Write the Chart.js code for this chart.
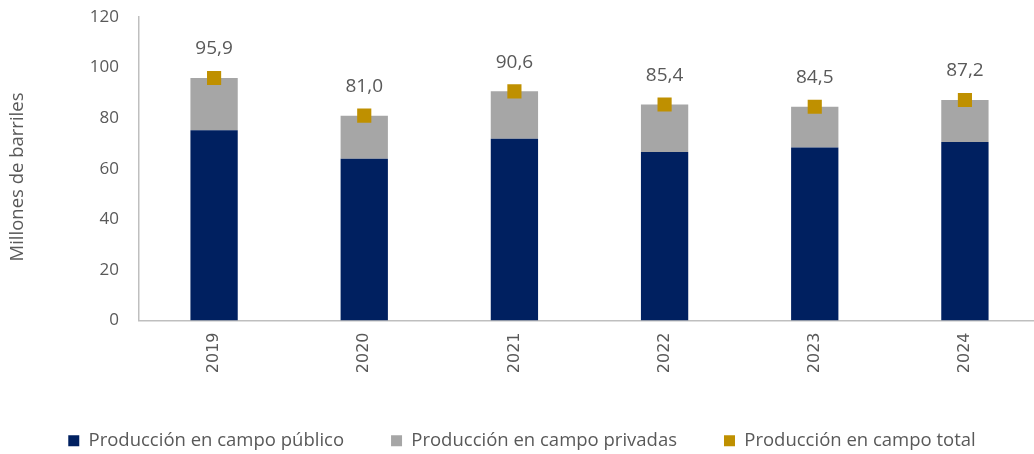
<!DOCTYPE html>
<html>
<head>
<meta charset="utf-8">
<script src="https://cdn.jsdelivr.net/npm/chart.js@4.4.1/dist/chart.umd.min.js"></script>
<style>
    html, body { margin: 0; padding: 0; overflow: hidden; background: #ffffff; }
    #wrap { width: 1050px; height: 460px; position: relative; }
</style>
</head>
<body>
<div id="wrap"><canvas id="prod-chart"></canvas></div>
<script>
// Producción de petróleo por tipo de campo (millones de barriles)
const data = {
    years: ["2019", "2020", "2021", "2022", "2023", "2024"],
    publico: [75.2, 64.0, 71.9, 66.6, 68.4, 70.6],
    total: [95.9, 81.0, 90.6, 85.4, 84.5, 87.2]
};

// privadas = total - público
const privadas = data.total.map(function (t, i) { return +(t - data.publico[i]).toFixed(1); });

const navy = "#002060";
const grey = "#A6A6A6";
const gold = "#BF9000";
const textColor = "#595959";
const axisColor = "#BFBFBF";

function fmt(v) {
    return v.toFixed(1).replace(".", ",");
}

// etiquetas del total encima de cada barra + título del eje y
const totalLabels = {
    id: "totalLabels",
    afterDatasetsDraw(chart) {
        const meta = chart.getDatasetMeta(2);
        const ctx = chart.ctx;
        ctx.save();
        ctx.font = '19px "Open Sans"';
        ctx.fillStyle = textColor;
        ctx.textAlign = "center";
        ctx.textBaseline = "middle";
        meta.data.forEach(function (pt, i) {
            ctx.fillText(fmt(data.total[i]), pt.x, pt.y - 29);
        });

        // el título va un poco más abajo que el centro del área
        ctx.font = '18.5px "Open Sans"';
        ctx.translate(18, 177);
        ctx.rotate(-Math.PI / 2);
        ctx.fillText("Millones de barriles", 0, 0);
        ctx.restore();
    }
};

const ctx = document.getElementById("prod-chart").getContext("2d");

new Chart(ctx, {
    data: {
        labels: data.years,
        datasets: [{
            label: "Producción en campo público",
            type: "bar",
            data: data.publico,
            backgroundColor: navy,
            borderWidth: 0,
            stack: "campo",
            order: 1
        }, {
            label: "Producción en campo privadas",
            type: "bar",
            data: privadas,
            backgroundColor: grey,
            borderWidth: 0,
            stack: "campo",
            order: 1
        }, {
            label: "Producción en campo total",
            type: "line",
            data: data.total,
            showLine: false,
            backgroundColor: gold,
            borderColor: gold,
            borderWidth: 0,
            pointStyle: "rect",
            pointRadius: 10,
            pointBorderWidth: 0,
            pointBackgroundColor: gold,
            stack: "total",
            order: 0
        }]
    },
    options: {
        responsive: true,
        maintainAspectRatio: false,
        animation: false,
        layout: { padding: { top: 17, right: 6, left: 0, bottom: 0 } },
        datasets: {
            bar: { categoryPercentage: 1, barPercentage: 0.315 }
        },
        plugins: {
            tooltip: { enabled: false },
            legend: {
                display: true,
                position: "bottom",
                labels: {
                    color: textColor,
                    font: { family: "Open Sans", size: 18.5 },
                    boxWidth: 11,
                    boxHeight: 11,
                    padding: 47,
                    sort: function (a, b) { return a.datasetIndex - b.datasetIndex; }
                }
            }
        },
        scales: {
            x: {
                stacked: true,
                grid: { display: false, drawTicks: false },
                border: { display: true, color: axisColor, width: 1.5 },
                ticks: {
                    color: textColor,
                    font: { family: "DejaVu Sans", size: 16 },
                    minRotation: 90,
                    maxRotation: 90,
                    padding: 12
                },
                afterFit: function (scale) { scale.height = 64; }
            },
            y: {
                stacked: true,
                min: 0,
                max: 120,
                grid: { display: false, drawTicks: false },
                border: { display: true, color: axisColor, width: 1.5 },
                ticks: {
                    stepSize: 20,
                    color: textColor,
                    font: { family: "Open Sans", size: 17 },
                    padding: 20
                },
                afterFit: function (scale) {
                    scale.width = 139;
                    // tick padding would otherwise push the chart area down
                    scale.paddingTop = 10;
                    scale.paddingBottom = 10;
                }
            }
        }
    },
    plugins: [totalLabels]
});
</script>
</body>
</html>
